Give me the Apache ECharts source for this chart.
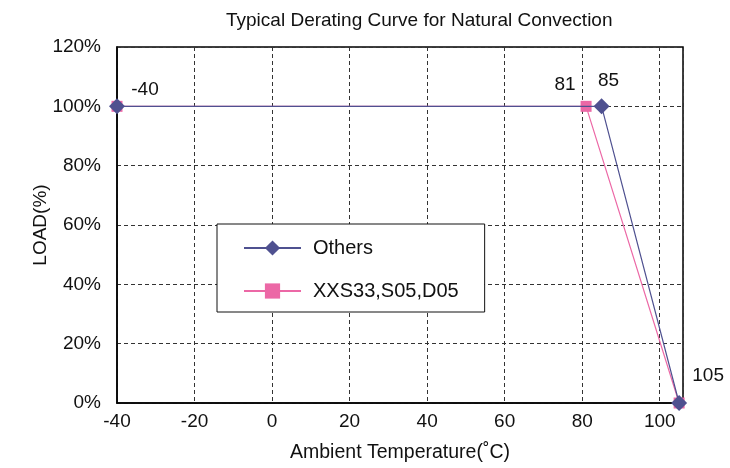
<!DOCTYPE html>
<html>
<head>
<meta charset="utf-8">
<script src="https://cdn.jsdelivr.net/npm/echarts@6/dist/echarts.min.js"></script>
<style>
  html, body { margin: 0; padding: 0; background: #fff; }
  #chart { width: 730px; height: 468px; }
</style>
</head>
<body>
<div id="chart"></div>
<script>
const othersTemp = [-40, 85, 105];
const othersLoad = [100, 100, 0];
const xxsTemp = [-40, 81, 105];
const xxsLoad = [100, 100, 0];
const othersShowLabel = [true, true, true];
const xxsShowLabel = [false, true, false];
const xTicks = [-40, -20, 0, 20, 40, 60, 80, 100];

const font = 'Liberation Sans, Arial, sans-serif';
const blue = '#4f5190';
const pink = '#ec68a6';

// label offsets, kept apart from the data
const othersOffsets = [[28, 6], [7, -3], [29, -5]];
const xxsOffsets = [[0, 0], [-21, -2], [0, 0]];

function buildPoints(temps, loads, shows, offsets) {
  return temps.map(function (t, i) {
    return {
      value: [t, loads[i]],
      label: {
        show: shows[i],
        position: 'top',
        offset: offsets[i],
      },
    };
  });
}

const chart = echarts.init(document.getElementById('chart'), null, { renderer: 'canvas' });

const option = {
  backgroundColor: '#fff',
  animation: false,
  textStyle: { fontFamily: font },
  title: {
    text: 'Typical Derating Curve for Natural Convection',
    left: 221,
    top: 6,
    textStyle: {
      fontFamily: font,
      fontSize: 19,
      fontWeight: 'normal',
      color: '#111',
    },
  },
  grid: {
    left: 117,
    right: 47,
    top: 47,
    bottom: 63,
    show: true,
    borderColor: '#000',
    borderWidth: 1.5,
    backgroundColor: 'transparent',
  },
  legend: {
    orient: 'vertical',
    left: 217,
    top: 224,
    data: ['Others', 'XXS33,S05,D05'],
    itemWidth: 57,
    itemHeight: 19,
    itemGap: 23,
    padding: [14, 26, 11, 26],
    backgroundColor: '#fff',
    borderColor: '#111',
    borderWidth: 1,
    textStyle: {
      fontFamily: font,
      fontSize: 20,
      color: '#111',
      padding: [0, 0, 0, 7],
    },
  },
  xAxis: {
    type: 'value',
    min: -40,
    max: 106,
    interval: 20,
    name: 'Ambient Temperature(˚C)',
    nameLocation: 'middle',
    nameGap: 40,
    nameMoveOverlap: false,
    nameTextStyle: { fontFamily: font, fontSize: 19.5, color: '#111' },
    axisLine: { show: true, onZero: false, lineStyle: { color: '#000', width: 1.5 } },
    axisTick: { show: false },
    axisLabel: {
      margin: 9,
      fontFamily: font,
      fontSize: 19,
      color: '#111',
      showMaxLabel: false,
      formatter: function (v) {
        return xTicks.indexOf(v) >= 0 ? String(v) : '';
      },
    },
    splitLine: {
      show: true,
      lineStyle: { color: '#333', type: [4, 3], width: 1 },
    },
  },
  yAxis: {
    type: 'value',
    min: 0,
    max: 120,
    interval: 20,
    name: 'LOAD(%)',
    nameLocation: 'middle',
    nameGap: 67,
    nameMoveOverlap: false,
    nameRotate: 90,
    nameTextStyle: { fontFamily: font, fontSize: 19, color: '#111' },
    axisLine: { show: true, onZero: false, lineStyle: { color: '#000', width: 1.5 } },
    axisTick: { show: false },
    axisLabel: {
      margin: 16,
      fontFamily: font,
      fontSize: 19,
      color: '#111',
      formatter: '{value}%',
    },
    splitLine: {
      show: true,
      lineStyle: { color: '#333', type: [4, 3], width: 1 },
    },
  },
  series: [
    {
      name: 'XXS33,S05,D05',
      type: 'line',
      z: 2,
      symbol: 'rect',
      symbolSize: 11,
      itemStyle: { color: pink },
      lineStyle: { color: pink, width: 1.2 },
      label: {
        fontFamily: font,
        fontSize: 19,
        color: '#111',
        formatter: function (p) { return String(p.value[0]); },
      },
      data: buildPoints(xxsTemp, xxsLoad, xxsShowLabel, xxsOffsets),
    },
    {
      name: 'Others',
      type: 'line',
      z: 3,
      symbol: 'diamond',
      symbolSize: 16,
      itemStyle: { color: blue },
      lineStyle: { color: blue, width: 1.2 },
      label: {
        fontFamily: font,
        fontSize: 19,
        color: '#111',
        formatter: function (p) { return String(p.value[0]); },
      },
      data: buildPoints(othersTemp, othersLoad, othersShowLabel, othersOffsets),
    },
  ],
};

chart.setOption(option);
</script>
</body>
</html>
